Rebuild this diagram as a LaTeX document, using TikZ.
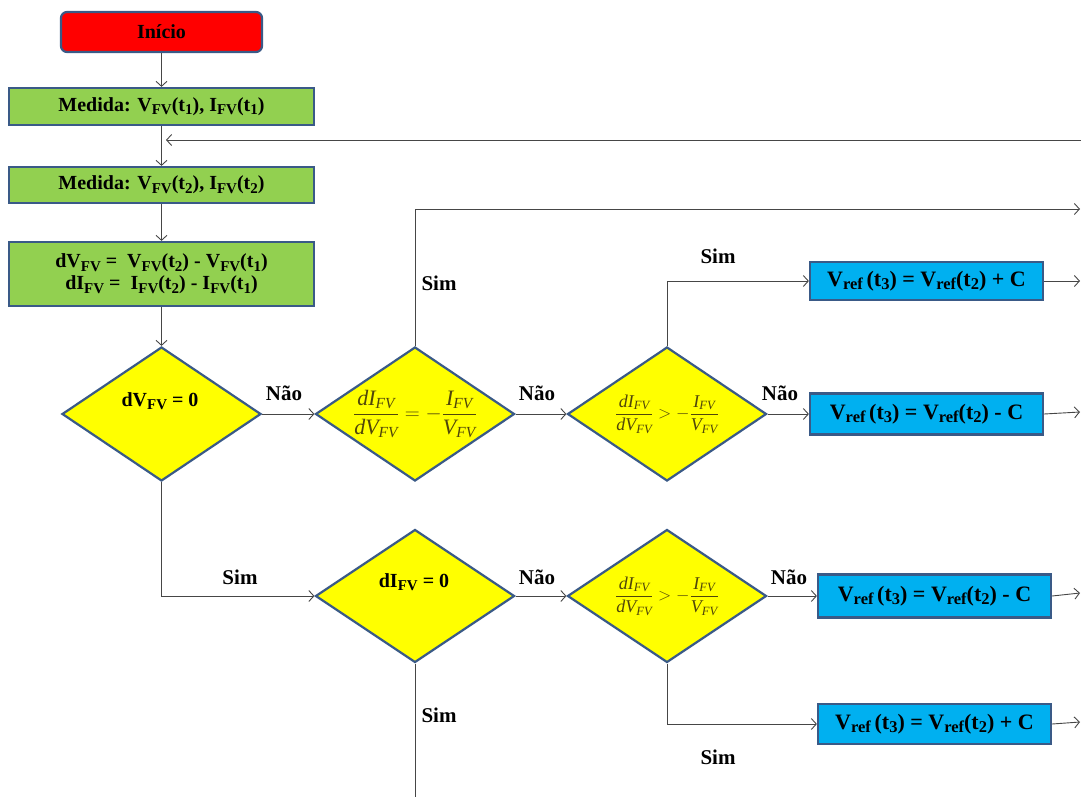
\documentclass[tikz,border=0pt]{standalone}
\usepackage{amsmath}
\usepackage{fontspec}
\setmainfont{Liberation Serif}
\usepackage{graphicx}
\usetikzlibrary{shapes.geometric,arrows.meta}
\definecolor{bordc}{RGB}{58,90,135}
\definecolor{gfill}{RGB}{146,208,80}
\definecolor{bfill}{RGB}{0,176,240}
\definecolor{yfill}{RGB}{255,255,0}
\definecolor{rfill}{RGB}{255,0,0}
\definecolor{linec}{RGB}{70,70,70}
\definecolor{mathc}{RGB}{80,70,10}
\newcommand\lo[1]{\raisebox{-0.35ex}{\scalebox{0.75}{#1}}}
\newcommand\mi[1]{\textit{#1}}
\begin{document}
\begin{tikzpicture}[x=1pt,y=-1pt,
  boxbase/.style={draw=bordc,line width=2.2pt,inner sep=0pt,font=\fontsize{20}{24}\selectfont\bfseries},
  greenbox/.style={boxbase,fill=gfill,minimum width=305pt},
  bluebox/.style={boxbase,fill=bfill,minimum width=233pt,font=\fontsize{22}{26}\selectfont\bfseries},
  startbox/.style={boxbase,fill=rfill,rounded corners=6pt,minimum width=201pt,minimum height=40pt,font=\fontsize{20}{24}\selectfont\bfseries},
  decision/.style={shape=diamond,draw=bordc,line width=2.2pt,fill=yfill,inner sep=0pt,minimum width=199pt,minimum height=134pt},
  dtext/.style={font=\fontsize{20}{24}\selectfont\bfseries,inner sep=0pt},
  mtext/.style={text=mathc,inner sep=0pt},
  lab/.style={font=\fontsize{21}{24}\selectfont\bfseries,inner sep=0pt},
  conn/.style={draw=linec,line width=0.9pt},
  arr/.style={conn,-{Straight Barb[length=5pt,width=11pt]}}
]
\useasboundingbox (0,0) rectangle (1081,796);

% nodes
\node[startbox] (ini) at (161.5,32) {Início};
\node[greenbox,minimum height=37pt] (b1) at (161.5,106.5) {Medida: V\lo{FV}(t\lo{1}), I\lo{FV}(t\lo{1})};
\node[greenbox,minimum height=36pt] (b2) at (161.5,185) {Medida: V\lo{FV}(t\lo{2}), I\lo{FV}(t\lo{2})};
\node[greenbox,minimum height=64pt,align=center] (b3) at (161.5,274)
  {dV\lo{FV} =~ V\lo{FV}(t\lo{2}) - V\lo{FV}(t\lo{1})\\[-2pt] dI\lo{FV} =~ I\lo{FV}(t\lo{2}) - I\lo{FV}(t\lo{1})};

\node[decision] (d1) at (161.5,414) {};
\node[dtext] (t1) at (160,401) {dV\lo{FV} = 0};
\node[decision] (d2) at (415,414) {};
\node[mtext,font=\fontsize{22}{26}\selectfont] (t2) at (415,414)
  {$\dfrac{\mi{dI}_{\mi{FV}}}{\mi{dV}_{\mi{FV}}} = -\dfrac{\mi{I}_{\mi{FV}}}{\mi{V}_{\mi{FV}}}$};
\node[decision] (d3) at (667,414) {};
\node[mtext,font=\fontsize{18}{22}\selectfont] (t3) at (667,414)
  {$\dfrac{\mi{dI}_{\mi{FV}}}{\mi{dV}_{\mi{FV}}} > -\dfrac{\mi{I}_{\mi{FV}}}{\mi{V}_{\mi{FV}}}$};

\node[bluebox,minimum height=38pt] (bA) at (926.5,281) {V\lo{ref}\,(t\lo{3}) = V\lo{ref}(t\lo{2}) + C};
\node[bluebox,minimum height=41pt] (bB) at (926.5,414) {V\lo{ref}\,(t\lo{3}) = V\lo{ref}(t\lo{2}) - C};

\node[decision,minimum height=133pt] (d4) at (415,596) {};
\node[dtext] (t4) at (414,582) {dI\lo{FV} = 0};
\node[decision,minimum height=133pt] (d5) at (667,596) {};
\node[mtext,font=\fontsize{18}{22}\selectfont] (t5) at (667,596)
  {$\dfrac{\mi{dI}_{\mi{FV}}}{\mi{dV}_{\mi{FV}}} > -\dfrac{\mi{I}_{\mi{FV}}}{\mi{V}_{\mi{FV}}}$};

\node[bluebox,minimum height=43pt] (bC) at (934.5,596) {V\lo{ref}\,(t\lo{3}) = V\lo{ref}(t\lo{2}) - C};
\node[bluebox,minimum height=40pt] (bD) at (934.5,724) {V\lo{ref}\,(t\lo{3}) = V\lo{ref}(t\lo{2}) + C};

% labels
\node[lab] (n1) at (284,393) {Não};
\node[lab] (n2) at (537,393) {Não};
\node[lab] (n3) at (780,393) {Não};
\node[lab] (n4) at (537,577) {Não};
\node[lab] (n5) at (789,577) {Não};
\node[lab] (s1) at (240,577) {Sim};
\node[lab] (s2) at (439,283) {Sim};
\node[lab] (s3) at (718,256) {Sim};
\node[lab] (s4) at (439,715) {Sim};
\node[lab] (s5) at (718,757) {Sim};

% free ends
\coordinate (fbS) at (1081,140);
\coordinate (fbE) at (166,140);
\coordinate (o1) at (1080,209);
\coordinate (o2) at (1080,281);
\coordinate (o3) at (1080,412);
\coordinate (o4) at (1080,593);
\coordinate (o5) at (1080,722);
\coordinate (o6) at (415,797);

% connectors
\draw[arr] (ini) -- (b1);
\draw[arr] (fbS) -- (fbE);
\draw[arr] (b1) -- (b2);
\draw[arr] (b2) -- (b3);
\draw[arr] (b3) -- (d1);
\draw[arr] (d1) -- (d2);
\draw[arr] (d2) -- (d3);
\draw[arr] (d3) -- (bB);
\draw[arr] (d2.north) |- (o1);
\draw[arr] (d3.north) |- (bA.west);
\draw[arr] (bA.east) -- (o2);
\draw[arr] (bB.east) -- (o3);
\draw[arr] (d1.south) |- (d4.west);
\draw[arr] (d4) -- (d5);
\draw[arr] (d5) -- (bC);
\draw[arr] (d5.south) |- (bD.west);
\draw[arr] (bC.east) -- (o4);
\draw[arr] (bD.east) -- (o5);
\draw[conn] (d4.south) -- (o6);
\end{tikzpicture}
\end{document}
